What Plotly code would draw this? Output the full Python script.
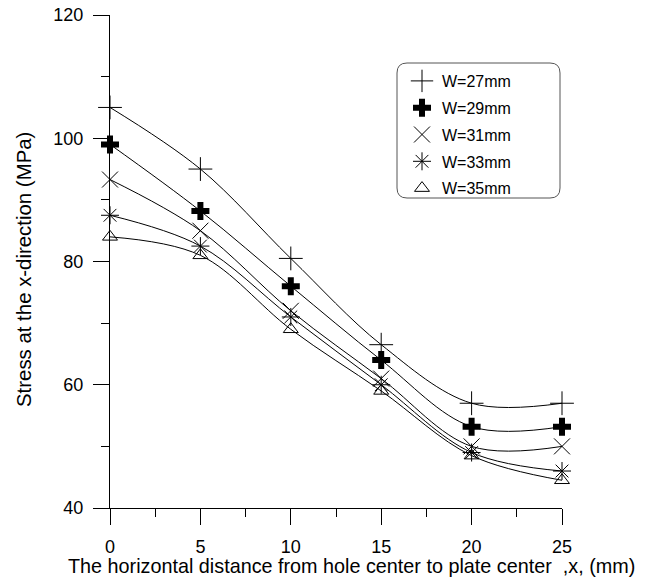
import plotly.graph_objects as go

x_vals = [0, 5, 10, 15, 20, 25]
series_names = ["W=27mm", "W=29mm", "W=31mm", "W=33mm", "W=35mm"]
w27 = [105.0, 95.0, 80.5, 66.5, 57.0, 57.0]
w29 = [99.0, 88.2, 76.0, 64.0, 53.2, 53.2]
w31 = [93.3, 85.0, 72.0, 61.0, 50.0, 50.0]
w33 = [87.5, 82.5, 71.0, 60.0, 49.0, 46.0]
w35 = [84.0, 81.0, 69.0, 59.0, 48.5, 44.5]
series_vals = [w27, w29, w31, w33, w35]
y_ticks = [40, 60, 80, 100, 120]
x_ticks = [0, 5, 10, 15, 20, 25]
x_title = "The horizontal distance from hole center to plate center  ,x, (mm)"
y_title = "Stress at the x-direction (MPa)"

symbols = ["cross-thin-open", "cross", "x-thin-open", "asterisk-open", "triangle-up-open"]
sizes = [17, 15, 16, 15, 13]

fig = go.Figure()
for name, ys in zip(series_names, series_vals):
    fig.add_trace(go.Scatter(x=x_vals, y=ys, mode="lines",
                             line=dict(color="black", width=1, shape="spline", smoothing=1.0),
                             showlegend=False, hoverinfo="skip"))
for i, (name, ys) in enumerate(zip(series_names, series_vals)):
    sym = symbols[i]
    mk = dict(symbol=sym, size=sizes[i], color="black", line=dict(color="black", width=1))
    if sym == "cross":
        mk["line"] = dict(color="black", width=0)
    fig.add_trace(go.Scatter(x=x_vals, y=ys, mode="markers", name=name, marker=mk,
                             cliponaxis=False, legendgroup=f"g{i}"))

# page has an 8px body margin; plot area in page coords: x 110..562, y 15..508
BODY = 8
W, H = 651 - BODY, 582 - BODY
L, T = 110 - BODY, 15 - BODY
pw, ph = 452, 493
R = W - L - pw
B = H - T - ph

def px(xp):
    return (xp - 110) / pw

def py(yp):
    return (508 - yp) / ph

x0, x1, y0, y1 = px(397), px(560), py(198), py(63)
rx, ry = 10 / pw, 10 / ph
path = (f"M {x0+rx},{y1} L {x1-rx},{y1} Q {x1},{y1} {x1},{y1-ry} L {x1},{y0+ry} Q {x1},{y0} {x1-rx},{y0} "
        f"L {x0+rx},{y0} Q {x0},{y0} {x0},{y0+ry} L {x0},{y1-ry} Q {x0},{y1} {x0+rx},{y1} Z")
fig.add_shape(type="path", path=path, xref="paper", yref="paper", line=dict(color="#555555", width=1))

fig.add_annotation(text=x_title, xref="paper", yref="paper", x=px(66), y=py(566),
                   xanchor="left", yanchor="middle", showarrow=False, font=dict(size=19.8))
fig.add_annotation(text=y_title, xref="paper", yref="paper", x=px(24), y=py(270), textangle=-90,
                   xanchor="center", yanchor="middle", showarrow=False, font=dict(size=20.4))

fig.update_layout(
    width=W, height=H,
    margin=dict(l=L, r=R, t=T, b=B, autoexpand=False),
    paper_bgcolor="white", plot_bgcolor="white",
    font=dict(family="Liberation Sans, Arial, sans-serif", color="black", size=18),
    legend=dict(x=px(402), y=py(64), xanchor="left", yanchor="top", bgcolor="rgba(0,0,0,0)",
                font=dict(size=16), traceorder="grouped", tracegroupgap=3, itemwidth=30),
)
fig.update_xaxes(range=[0, 25], showline=True, linecolor="black", linewidth=1, showgrid=False, zeroline=False,
                 automargin=False, tickmode="array", tickvals=x_ticks, ticklabelstandoff=6,
                 ticklabeloverflow="allow",
                 ticks="outside", ticklen=16, tickcolor="black",
                 minor=dict(ticks="outside", ticklen=8, dtick=2.5, tickcolor="black", showgrid=False))
fig.update_yaxes(range=[40, 120], showline=True, linecolor="black", linewidth=1, showgrid=False, zeroline=False,
                 automargin=False, tickmode="array", tickvals=y_ticks, ticklabelstandoff=6,
                 ticklabeloverflow="allow",
                 ticks="outside", ticklen=16, tickcolor="black",
                 minor=dict(ticks="outside", ticklen=8, dtick=10, tickcolor="black", showgrid=False))

fig.write_html("out.html")
